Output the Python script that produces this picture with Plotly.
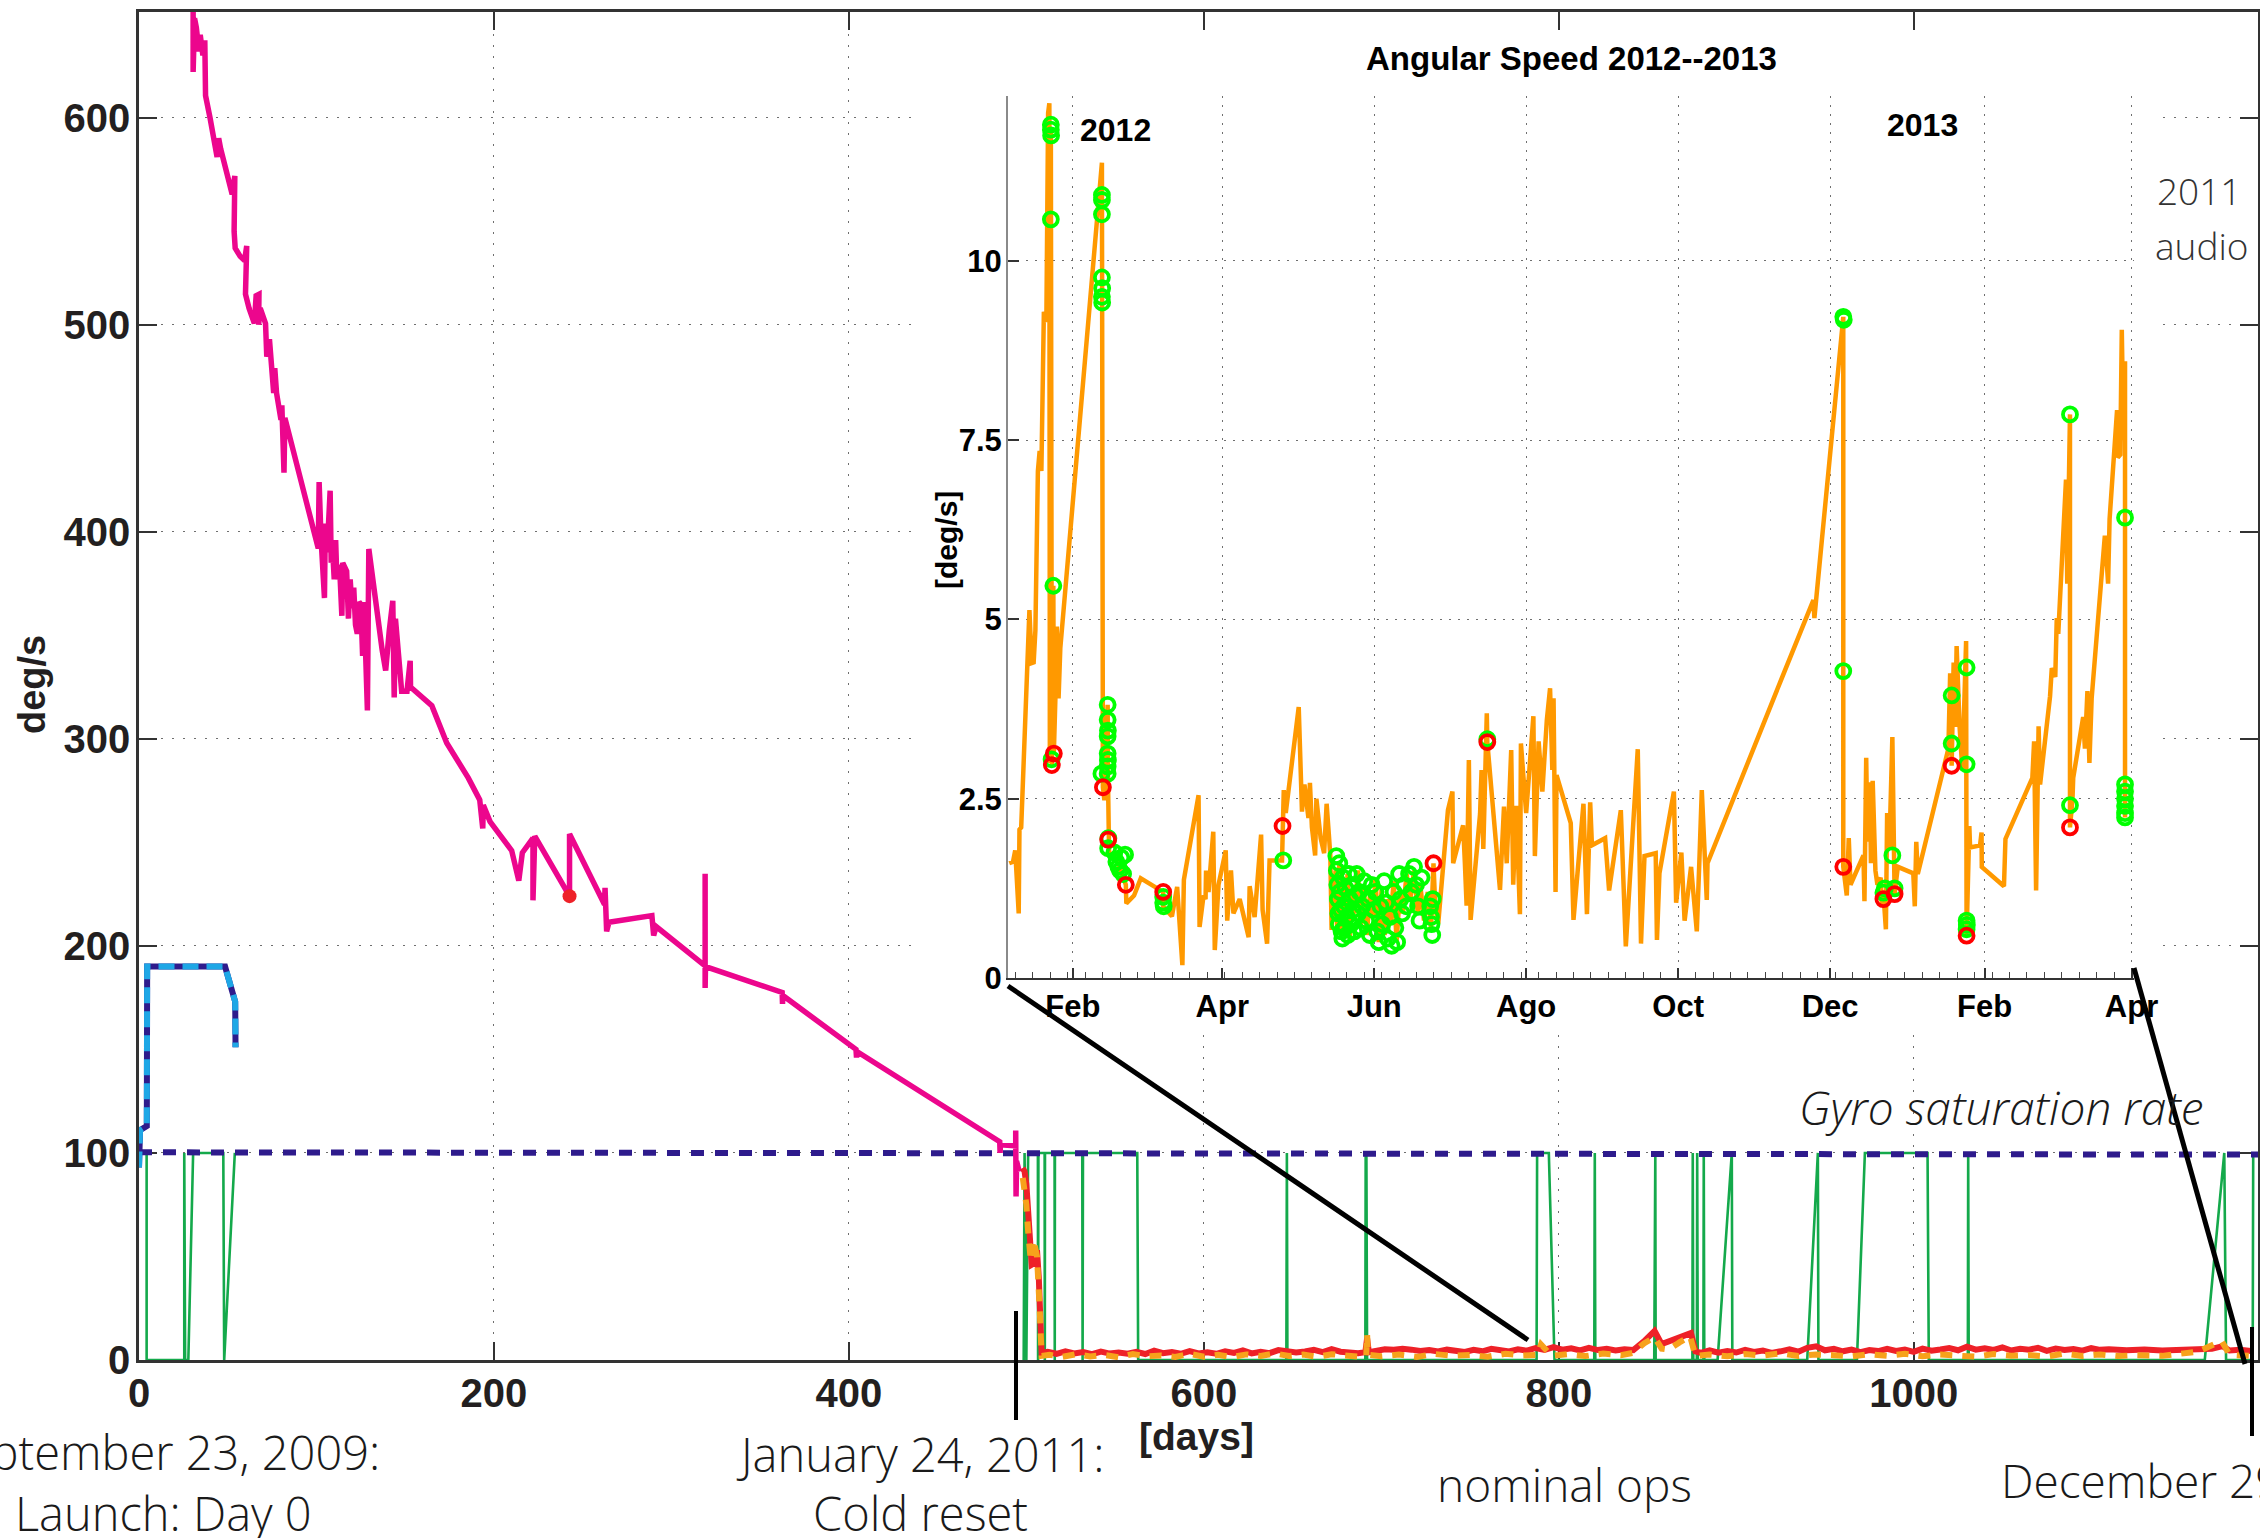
import pandas as pd
import plotly.graph_objects as go

W, H = 2260, 1538
# pixel boxes of the two plotting areas (left, right, top, bottom)
MX0, MX1, MY0, MY1 = 139, 2258, 12, 1360
IX0, IX1, IY0, IY1 = 1008, 2134, 96, 978

X_RANGE = [0, 1194]
Y_RANGE = [0, 651]
INSET_START = "2012-01-06"
INSET_X_RANGE = ["2012-01-06", "2013-04-02"]
INSET_Y_RANGE = [0, 12.3]

# ---------------- main chart data (days since launch, deg/s) ----------------
pink_day = [30.5, 30.5, 31.3, 32.3, 33.8, 34.5, 36.0, 36.3, 37.1, 37.3,
            37.5, 40.0, 44.0, 44.9, 46.0, 52.5, 54.0, 53.6, 54.2, 57.0,
            59.5, 60.7, 60.0, 62.0, 65.0, 66.0, 67.6, 67.4, 68.3, 71.3,
            72.0, 73.5, 75.9, 76.5, 77.5, 80.0, 80.5, 81.7, 82.2, 101.0,
            101.5, 102.5, 104.5, 105.0, 106.0, 107.7, 108.3, 109.0, 110.0, 110.8,
            111.5, 113.0, 114.3, 114.8, 117.0, 118.0, 119.0, 120.0, 121.0, 122.0,
            123.0, 124.0, 125.0, 126.0, 126.8, 128.7, 129.5, 137.0, 139.0, 141.0,
            143.0, 143.8, 144.5, 148.0, 151.0, 152.8, 153.0, 165.0, 173.4, 185.6,
            192.0, 193.7, 194.0, 197.8, 210.0, 214.0, 216.0, 222.0, 222.0, 223.0,
            242.6, 242.6, 262.3, 262.6, 263.5, 264.8, 289.0, 290.0, 291.4, 319.0,
            319.0, 319.0, 319.2, 362.4, 362.6, 362.8, 404.0, 404.3, 404.5, 485.0,
            485.2, 485.4, 494.0, 494.0, 494.2, 494.5, 496.0]
pink_val = [660, 622, 648, 643.6, 632, 640, 630, 636, 636, 621,
            610.6, 600, 581, 590, 585, 563, 571.8, 545, 537, 533,
            531, 538, 514.7, 508, 500.6, 514, 514.7, 500, 508, 500.6,
            484.5, 493, 467, 479, 467, 454, 461, 428.5, 455, 392,
            424, 398, 368, 404, 390, 419.8, 385, 393, 377, 396,
            377, 384, 359.4, 385, 381, 358, 377, 363, 373, 355,
            350.7, 366, 365, 340, 366, 313.7, 391.7, 343, 333, 352,
            366.6, 320, 358, 323, 323, 337.7, 325, 316, 298, 281,
            270.5, 256.7, 268, 260, 246, 231.5, 245, 252, 222, 253,
            224, 254, 220, 228, 207, 211.4, 214.6, 205, 209.3, 190.3,
            234.8, 179.7, 190, 177.5, 172, 176, 150, 146, 149, 105.4,
            100, 104, 103.4, 110.8, 79, 96, 91]

marker_day = [242.6]
marker_val = [224]

launch_day = [0, 0.6, 4.4, 4.6, 48.5, 54.0, 54.2, 54.4]
launch_val = [93, 111, 113, 190, 190, 173, 173, 151]

saturation_day = [0, 1194]
saturation_val = [100.3, 99.2]

green_day = [0, 4.3, 4.3, 25.5, 25.5, 26.0, 27.8, 30.5, 47.5, 48.0,
             54.0, None, 498.5, 499.0, 500.0, 501.0, 506.5, 506.6, 506.8, 510.3,
             510.4, 510.5, 515.9, 516.0, 516.1, 531.5, 531.7, 531.9, 562.5, 563.0,
             646.5, 646.8, 647.1, 691.0, 691.2, 691.6, 692.0, 787.5, 787.8, 794.4,
             797.6, 820.0, 820.3, 820.6, 853.8, 854.0, 854.4, 854.6, 875.3, 875.5,
             875.8, 877.8, 878.0, 878.3, 881.5, 881.7, 882.0, 889.5, 897.5, 897.8,
             940.0, 946.0, 946.3, 968.0, 972.5, 1007.8, 1008.5, 1030.5, 1030.7, 1031.0,
             1164.0, 1175.0, 1176.0, 1191.0, 1191.3]
green_val = [100, 100, 0, 0, 100, 0, 0, 100, 100, 0,
             100, None, 0, 100, 0, 100, 100, 0, 100, 100,
             0, 100, 100, 0, 100, 100, 0, 100, 100, 0,
             0, 100, 0, 0, 100, 100, 0, 0, 100, 100,
             0, 0, 100, 0, 0, 100, 100, 0, 0, 100,
             0, 0, 100, 0, 0, 100, 0, 0, 100, 0,
             0, 100, 0, 0, 100, 100, 0, 0, 100, 0,
             0, 100, 0, 0, 100]

red_day = [497.9, 499, 500, 501, 502, 503, 505, 506, 507, 507.6,
           508.6, 512, 517, 522, 527, 532, 537, 542, 547, 552,
           557, 562, 567, 572, 577, 582, 587, 592, 597, 602,
           607, 612, 617, 622, 627, 632, 637, 642, 647, 652,
           657, 662, 667, 672, 677, 682, 687, 691, 692, 693,
           697, 702, 707, 712, 717, 722, 727, 732, 737, 742,
           747, 752, 757, 762, 767, 772, 777, 782, 787, 792,
           797, 802, 807, 812, 817, 822, 827, 832, 837, 842,
           848, 854, 858, 862, 868, 874.5, 877, 880, 885, 890,
           895, 900, 905, 910, 915, 920, 925, 930, 935, 940,
           945, 950, 955, 960, 965, 970, 975, 980, 985, 990,
           995, 1000, 1005, 1010, 1015, 1020, 1025, 1030, 1035, 1040,
           1045, 1050, 1055, 1060, 1065, 1070, 1075, 1080, 1085, 1090,
           1095, 1100, 1105, 1110, 1120, 1130, 1140, 1150, 1160, 1168,
           1174, 1178, 1184, 1190]
red_val = [92.7, 91, 85, 69, 53, 46, 47, 53, 40, 29,
           3.4, 4.0, 3.0, 4.2, 3.2, 3.8, 2.8, 4.1, 3.1, 3.6,
           3.0, 3.9, 2.9, 4.5, 3.3, 3.8, 3.0, 4.3, 3.2, 3.7,
           3.0, 4.2, 3.4, 4.6, 3.2, 4.0, 3.3, 4.8, 4.3, 3.6,
           4.1, 4.9, 3.8, 5.2, 4.0, 3.6, 3.3, 3.8, 10.5, 3.8,
           4.6, 5.2, 4.9, 5.4, 5.0, 4.4, 4.8, 4.1, 5.0, 4.5,
           3.9, 4.9, 4.2, 5.4, 4.7, 4.1, 5.2, 4.5, 5.8, 4.9,
           6.2, 5.0, 5.6, 4.6, 5.9, 4.8, 5.4, 4.6, 5.2, 4.8,
           9.0, 14.0, 7.7, 9.0, 11.0, 13.0, 4.2, 3.4, 4.6, 3.5,
           4.3, 3.6, 4.9, 3.9, 4.6, 3.4, 4.2, 5.2, 4.0, 5.9,
           6.6, 4.7, 5.4, 4.2, 5.0, 3.8, 4.8, 4.3, 5.4, 4.4,
           5.0, 3.9, 5.5, 4.5, 5.1, 5.8, 4.7, 6.4, 5.0, 5.7,
           4.9, 6.1, 4.6, 5.4, 5.0, 5.9, 4.4, 5.5, 4.8, 5.3,
           4.5, 5.7, 4.9, 5.2, 4.7, 5.1, 4.6, 4.7, 5.0, 5.4,
           6.7, 4.6, 4.9, 4.3]

orange_day = [498, 500, 501, 502.5, 504, 506, 507.5, 508.6, 513, 520,
              528, 536, 544, 552, 560, 568, 576, 584, 592, 600,
              608, 616, 624, 632, 640, 648, 656, 664, 672, 680,
              688, 691.5, 692, 692.5, 700, 710, 720, 730, 740, 750,
              760, 770, 780, 788, 790, 796, 805, 815, 825, 835,
              842, 848, 854, 858, 862, 868, 874, 877, 885, 895,
              905, 915, 925, 935, 945, 955, 965, 975, 985, 995,
              1005, 1015, 1025, 1035, 1045, 1055, 1065, 1075, 1085, 1095,
              1105, 1115, 1125, 1140, 1160, 1173.5, 1178, 1190]
orange_val = [88, 75, 62, 48, 58, 50, 25, 2, 2.5, 1.5,
              2.8, 1.7, 2.4, 1.3, 2.9, 1.8, 2.2, 1.5, 3.0, 1.6,
              2.5, 1.4, 2.7, 2.0, 3.2, 1.9, 2.6, 1.5, 2.8, 2.1,
              1.6, 2.0, 12.5, 2.5, 1.8, 2.6, 1.5, 2.9, 2.0, 2.4,
              1.6, 3.0, 2.2, 2.5, 7.5, 2.0, 2.8, 1.9, 3.1, 2.3,
              3.5, 8.0, 11.0, 5.5, 5.0, 8.5, 11.5, 2.0, 2.6, 1.8,
              2.9, 2.1, 3.2, 1.9, 2.7, 2.3, 1.7, 2.8, 2.0, 3.0,
              1.8, 2.6, 2.2, 1.6, 2.9, 2.1, 2.4, 1.7, 3.1, 2.0,
              2.7, 1.9, 2.3, 2.0, 4.0, 9.2, 2.5, 2.0]

# ---------------- inset data (days after 2012-01-06, deg/s) ----------------
inset_day = [0.5, 2.0, 2.9, 3.6, 4.3, 4.6, 5.3, 8.6, 9.5, 10.3,
             11.0, 12.0, 12.7, 13.4, 14.4, 15.4, 16.1, 16.6, 16.8, 17.2,
             17.2, 17.6, 18.2, 18.4, 19.0, 19.6, 20.3, 21.0, 37.7, 37.7,
             38.1, 38.7, 40.0, 40.1, 40.2, 40.6, 42.7, 45.0, 47.3, 47.5,
             50.6, 53.3, 62.3, 62.3, 65.8, 67.9, 70.0, 70.6, 76.5, 76.9,
             78.5, 79.3, 79.5, 80.5, 82.4, 83.0, 84.5, 87.4, 88.0, 89.5,
             90.5, 93.0, 96.6, 97.0, 99.0, 101.6, 102.2, 104.0, 105.0, 110.0,
             110.2, 110.7, 111.5, 116.7, 118.0, 119.0, 120.6, 121.2, 122.0, 123.3,
             123.8, 125.5, 126.9, 127.9, 128.8, 129.4, 129.9, 130.5, 131.5, 132.2,
             133.0, 133.8, 134.6, 135.5, 136.3, 137.2, 138.0, 139.0, 140.5, 141.5,
             142.8, 144.0, 145.3, 146.5, 147.5, 148.8, 150.0, 151.2, 152.5, 153.5,
             154.8, 156.0, 157.3, 158.5, 160.0, 161.5, 163.0, 164.5, 165.5, 167.0,
             168.5, 169.8, 170.8, 171.5, 172.7, 176.6, 178.4, 178.7, 182.7, 183.4,
             184.1, 185.0, 185.7, 189.5, 190.1, 190.8, 192.2, 192.4, 195.0, 197.5,
             199.1, 200.2, 202.0, 202.8, 204.0, 205.5, 205.9, 208.0, 210.9, 211.5,
             213.0, 214.5, 216.3, 217.6, 218.5, 219.0, 219.8, 220.2, 225.9, 227.0,
             231.0, 232.4, 233.7, 234.4, 239.7, 241.3, 246.0, 248.0, 252.8, 254.1,
             255.5, 260.0, 260.5, 261.5, 267.3, 268.2, 270.3, 271.6, 274.2, 276.5,
             277.5, 278.5, 280.5, 280.8, 309.9, 323.3, 323.7, 335.3, 335.3, 335.3,
             336.7, 337.5, 338.2, 343.4, 343.8, 344.5, 345.0, 346.0, 346.4, 347.1,
             348.2, 349.0, 350.3, 350.8, 351.4, 352.4, 352.9, 353.8, 355.0, 355.4,
             355.9, 357.2, 363.4, 364.0, 364.6, 365.2, 377.5, 378.2, 378.8, 379.6,
             380.2, 380.8, 382.0, 383.1, 384.6, 384.8, 385.9, 386.2, 390.2, 390.8,
             390.9, 399.8, 400.4, 411.2, 411.9, 412.7, 413.7, 414.3, 418.3, 419.0,
             420.4, 421.0, 421.6, 424.7, 425.2, 426.3, 426.3, 427.3, 427.6, 431.6,
             432.3, 433.3, 434.1, 435.0, 440.3, 440.9, 441.6, 442.2, 445.2, 445.5,
             446.5, 447.1, 447.8, 448.4, 448.4, 448.4]
inset_speed = [1.6, 1.62, 1.78, 1.13, 0.9, 2.07, 2.1, 5.13, 4.39, 4.4,
               4.85, 7.07, 7.35, 7.07, 9.29, 9.15, 12.06, 12.2, 3.0, 11.83,
               2.98, 2.97, 5.47, 3.13, 3.87, 4.9, 3.9, 4.6, 11.37, 9.4,
               2.66, 2.48, 3.81, 2.85, 1.93, 1.7, 1.75, 1.5, 1.3, 1.04,
               1.15, 1.39, 1.2, 1.0, 0.86, 1.27, 0.18, 1.37, 2.55, 0.71,
               1.15, 1.1, 1.5, 1.2, 2.04, 0.39, 1.3, 1.78, 0.8, 1.5,
               0.9, 1.1, 0.57, 1.28, 0.85, 2.0, 0.95, 0.48, 1.64, 1.64,
               2.12, 2.62, 2.3, 3.78, 2.32, 2.7, 2.23, 2.72, 2.1, 1.71,
               2.5, 1.95, 1.74, 2.43, 2.0, 1.7, 0.67, 1.04, 1.5, 0.7,
               1.6, 0.6, 1.3, 0.8, 1.45, 0.55, 1.2, 0.9, 1.5, 0.7,
               1.3, 0.6, 1.15, 0.85, 1.4, 0.5, 1.25, 0.6, 1.1, 0.75,
               1.35, 0.5, 1.2, 0.9, 1.45, 1.1, 1.5, 0.9, 1.3, 0.8,
               1.2, 0.7, 1.6, 1.0, 0.76, 2.34, 2.6, 1.6, 2.13, 1.6,
               1.01, 3.04, 0.81, 2.29, 2.9, 1.8, 3.69, 3.29, 2.2, 1.23,
               2.39, 1.6, 3.18, 1.3, 2.4, 0.89, 3.27, 2.3, 3.65, 1.7,
               3.3, 2.6, 3.6, 4.04, 2.9, 3.9, 1.2, 2.83, 2.16, 0.81,
               2.43, 0.89, 2.45, 1.85, 1.95, 1.22, 2.34, 0.44, 3.19, 0.48,
               1.7, 1.74, 0.53, 1.46, 2.6, 1.05, 1.75, 0.8, 1.55, 0.65,
               1.6, 2.62, 1.09, 1.6, 4.12, 5.27, 5.02, 9.22, 4.27, 1.55,
               1.15, 1.95, 1.3, 1.71, 1.07, 3.07, 1.9, 2.73, 1.6, 2.75,
               1.5, 1.3, 1.4, 1.0, 1.19, 0.68, 2.3, 1.8, 3.36, 2.6,
               1.17, 1.55, 1.46, 1.0, 1.9, 1.45, 3.2, 4.25, 2.96, 4.4,
               3.5, 4.63, 3.5, 2.9, 4.7, 0.59, 2.12, 1.82, 1.85, 2.03,
               1.55, 1.28, 1.94, 2.79, 3.3, 1.22, 3.51, 2.7, 3.93, 4.32,
               4.2, 5.02, 4.8, 6.95, 5.5, 7.86, 2.1, 2.49, 2.79, 3.64,
               3.2, 4.0, 3.0, 3.9, 6.17, 5.9, 5.5, 6.4, 7.92, 7.26,
               7.3, 9.04, 7.5, 8.6, 6.42, 2.24]

green_mark_day_early = [17.2, 17.2, 17.3, 17.2, 18.2, 17.5, 37.7, 37.7, 37.7, 37.7,
                        37.8, 37.7, 37.8, 37.5, 40.0, 40.0, 40.1, 40.0, 40.0, 40.1,
                        40.0, 40.0, 40.2, 40.3, 42.7, 43.5, 44.3, 45.0, 45.5, 46.2,
                        47.0, 62.3, 62.3, 62.5, 110.5]
green_mark_val_early = [11.9, 11.83, 11.75, 10.58, 5.47, 3.05, 10.92, 10.85, 10.65, 9.77,
                        9.62, 9.5, 9.42, 2.85, 3.81, 3.6, 3.45, 3.37, 3.13, 3.04,
                        2.95, 2.85, 1.81, 1.95, 1.75, 1.62, 1.55, 1.5, 1.68, 1.45,
                        1.72, 1.13, 1.05, 1.0, 1.64]
green_mark_day_june = [131.8, 132.0, 132.2, 132.4, 132.6, 132.8, 133.0, 133.3, 133.6, 133.9,
                       134.2, 134.5, 134.8, 135.2, 135.5, 136.0, 136.4, 136.8, 137.2, 137.6,
                       138.0, 138.5, 139.0, 139.5, 140.0, 140.5, 141.0, 141.6, 142.2, 143.0,
                       143.8, 144.5, 145.2, 146.0, 146.8, 147.5, 148.2, 148.8, 149.5, 150.2,
                       151.0, 151.8, 152.5, 153.3, 154.0, 154.8, 155.5, 156.2, 157.0, 157.6,
                       158.2, 159.0, 160.0, 161.0, 162.0, 163.0, 163.8, 164.6, 165.2, 166.0,
                       169.5, 169.8, 170.0, 170.3, 170.5]
green_mark_val_june = [1.7, 1.5, 1.3, 1.1, 0.9, 0.75, 1.6, 1.2, 0.95, 0.65,
                       0.55, 1.4, 1.0, 0.7, 1.25, 0.85, 0.6, 1.45, 1.1, 0.75,
                       1.3, 0.95, 0.65, 1.15, 1.45, 0.9, 1.2, 0.7, 1.0, 1.35,
                       0.8, 1.1, 0.6, 1.3, 0.95, 1.2, 0.65, 0.5, 1.0, 0.75,
                       1.35, 1.05, 0.55, 0.85, 0.45, 1.2, 0.7, 0.5, 1.45, 1.1,
                       0.9, 1.3, 1.0, 1.45, 1.2, 1.55, 1.3, 1.0, 0.8, 1.4,
                       1.0, 0.85, 0.75, 0.6, 1.1]
green_mark_day_late = [192.4, 335.3, 335.5, 335.3, 351.4, 352.0, 355.0, 355.9, 378.8, 378.8,
                       384.8, 384.8, 384.8, 384.9, 384.8, 426.3, 426.3, 448.4, 448.4, 448.4,
                       448.4, 448.4, 448.4, 448.4]
green_mark_val_late = [3.33, 9.22, 9.18, 4.28, 1.19, 1.25, 1.71, 1.25, 3.27, 3.94,
                       4.33, 2.98, 0.8, 0.74, 0.68, 7.86, 2.41, 6.42, 2.7, 2.6,
                       2.5, 2.4, 2.3, 2.24]
red_mark_day = [17.6, 18.4, 38.1, 40.2, 47.3, 62.3, 110.2, 170.8, 192.4, 335.3,
                351.4, 355.9, 378.8, 384.8, 426.3]
red_mark_val = [2.97, 3.13, 2.66, 1.93, 1.3, 1.2, 2.12, 1.6, 3.29, 1.55,
                1.1, 1.17, 2.96, 0.59, 2.10]

inset_tickvals = ["2012-02-01", "2012-04-01", "2012-06-01", "2012-08-01",
                  "2012-10-01", "2012-12-01", "2013-02-01", "2013-04-01"]
inset_ticktext = ["Feb", "Apr", "Jun", "Ago", "Oct", "Dec", "Feb", "Apr"]


def to_date(days):
    base = pd.Timestamp(INSET_START)
    return [base + pd.Timedelta(days=d) for d in days]


def px_x(px):
    return px / W


def px_y(py):
    return 1 - py / H


def data_x(px):
    return X_RANGE[0] + (px - MX0) / (MX1 - MX0) * (X_RANGE[1] - X_RANGE[0])


def data_y(py):
    return Y_RANGE[0] + (MY1 - py) / (MY1 - MY0) * (Y_RANGE[1] - Y_RANGE[0])


PINK = "#EC068D"
RED = "#EE2128"
ORANGE = "#F7A21B"
GREEN = "#14A94B"
NAVY = "#2E1B8C"
CYAN = "#1EA7E6"
I_ORANGE = "#FF9900"

fig = go.Figure()

# main traces
fig.add_trace(go.Scatter(x=green_day, y=green_val, mode="lines",
                         line=dict(color=GREEN, width=2.6), connectgaps=False))
fig.add_trace(go.Scatter(x=saturation_day, y=saturation_val, mode="lines",
                         line=dict(color=NAVY, width=6, dash="13px,11px")))
fig.add_trace(go.Scatter(x=pink_day, y=pink_val, mode="lines",
                         line=dict(color=PINK, width=5.5)))
fig.add_trace(go.Scatter(x=marker_day, y=marker_val, mode="markers",
                         marker=dict(color=RED, size=14)))
fig.add_trace(go.Scatter(x=launch_day, y=launch_val, mode="lines",
                         line=dict(color=NAVY, width=6)))
fig.add_trace(go.Scatter(x=launch_day, y=launch_val, mode="lines",
                         line=dict(color=CYAN, width=6, dash="16px,8px")))
fig.add_trace(go.Scatter(x=red_day, y=red_val, mode="lines",
                         line=dict(color=RED, width=6)))
fig.add_trace(go.Scatter(x=orange_day, y=orange_val, mode="lines",
                         line=dict(color=ORANGE, width=6, dash="12px,10px")))

# inset traces
fig.add_trace(go.Scatter(x=to_date(inset_day), y=inset_speed, mode="lines",
                         line=dict(color=I_ORANGE, width=4.5),
                         xaxis="x2", yaxis="y2"))
green_days = green_mark_day_early + green_mark_day_june + green_mark_day_late
green_vals = green_mark_val_early + green_mark_val_june + green_mark_val_late
fig.add_trace(go.Scatter(x=to_date(green_days), y=green_vals, mode="markers",
                         marker=dict(symbol="circle-open", color="#00FF00", size=14,
                                     line=dict(width=3.8, color="#00FF00")),
                         xaxis="x2", yaxis="y2"))
fig.add_trace(go.Scatter(x=to_date(red_mark_day), y=red_mark_val, mode="markers",
                         marker=dict(symbol="circle-open", color="#FF0000", size=14,
                                     line=dict(width=3.8, color="#FF0000")),
                         xaxis="x2", yaxis="y2"))

TICK_BOLD = "Liberation Sans, Arial, Helvetica, sans-serif"
LIGHT = "Open Sans, Lato, Liberation Sans, sans-serif"
DARK = "#231F20"

main_axis_common = dict(
    ticks="inside", ticklen=18, tickwidth=2, tickcolor="#333333",
    showline=True, linecolor="#333333", linewidth=2.5, mirror="allticks",
    showgrid=True, gridcolor="#6f6f6f", gridwidth=1.4, griddash="2px,9px",
    zeroline=False, layer="below traces", automargin=False,
    tickfont=dict(family=TICK_BOLD, size=40, color=DARK, weight="bold"),
)

inset_axis_common = dict(
    ticks="inside", tickwidth=1.6, tickcolor="#333333",
    showline=True, linewidth=2, mirror=False, automargin=False,
    showgrid=True, gridcolor="#6f6f6f", gridwidth=1.2, griddash="2px,7px",
    zeroline=False,
    tickfont=dict(family=TICK_BOLD, size=31, color="#000000", weight="bold"),
)

fig.update_layout(
    width=W, height=H,
    margin=dict(l=0, r=0, t=0, b=0, autoexpand=False),
    paper_bgcolor="white", plot_bgcolor="white",
    showlegend=False,
    xaxis=dict(domain=[MX0 / W, MX1 / W], range=X_RANGE, anchor="y",
               tickmode="array", tickvals=[0, 200, 400, 600, 800, 1000],
               ticklabelstandoff=-4, **main_axis_common),
    yaxis=dict(domain=[px_y(MY1), px_y(MY0)], range=Y_RANGE, anchor="x",
               tickmode="array", tickvals=[0, 100, 200, 300, 400, 500, 600],
               ticklabelstandoff=-2, **main_axis_common),
    xaxis2=dict(domain=[IX0 / W, IX1 / W], anchor="y2", type="date",
                range=INSET_X_RANGE, tickmode="array",
                tickvals=inset_tickvals, ticktext=inset_ticktext,
                ticklen=10, linecolor="#333333", ticklabelstandoff=0,
                minor=dict(ticks="inside", ticklen=6, tickwidth=1.3,
                           tickcolor="#444444", tick0="2012-01-09",
                           dtick=7 * 86400000, showgrid=False),
                **inset_axis_common),
    yaxis2=dict(domain=[px_y(IY1), px_y(IY0)], anchor="x2",
                range=INSET_Y_RANGE, tickmode="array",
                tickvals=[0, 2.5, 5, 7.5, 10],
                ticktext=["0", "2.5", "5", "7.5", "10"],
                ticklen=11, linecolor="#8a8a8a", ticklabelstandoff=-2,
                **inset_axis_common),
)

# white panel of the inset (above main grid, below the curves)
shapes = [
    dict(type="rect", xref="x", yref="y", layer="between",
         x0=data_x(915), x1=data_x(2163), y0=data_y(1032), y1=data_y(16),
         fillcolor="white", line=dict(width=0)),
]
# zoom call-out and date marker lines of the slide
for (xa, ya, xb, yb, w) in [(1008, 986, 1528, 1340, 5),
                            (2134, 968, 2245, 1364, 5),
                            (1016, 1311, 1016, 1420, 4),
                            (2252, 1327, 2252, 1436, 4)]:
    shapes.append(dict(type="line", xref="paper", yref="paper", layer="above",
                       x0=px_x(xa), y0=px_y(ya), x1=px_x(xb), y1=px_y(yb),
                       line=dict(color="black", width=w)))
fig.update_layout(shapes=shapes)


def ann(text, x, y, size, family=LIGHT, weight=300, color="#1a1a1a",
        xanchor="center", italic=False, angle=0):
    return dict(text=text, x=px_x(x), y=px_y(y), xref="paper", yref="paper",
                xanchor=xanchor, yanchor="middle", showarrow=False,
                textangle=angle,
                font=dict(family=family, size=size, color=color, weight=weight,
                          style="italic" if italic else "normal"))


annotations = [
    ann("September 23, 2009:", 382, 1452, 47, xanchor="right"),
    ann("Launch: Day 0", 163, 1513, 47),
    ann("January 24, 2011:", 920, 1454, 47),
    ann("Cold reset", 920, 1513, 47),
    ann("nominal ops", 1564, 1484, 46),
    ann("December 29, 2013:", 1999, 1480, 46, xanchor="left"),
    ann("Gyro saturation rate", 2001, 1107, 46, italic=True),
    ann("2011", 2243, 190, 37, color="#333333", xanchor="right"),
    ann("audio", 2251, 245, 37, color="#333333", xanchor="right"),
    ann("[days]", 1196, 1436, 39, family=TICK_BOLD, weight="bold", color=DARK),
    ann("deg/s", 32, 685, 38, family=TICK_BOLD, weight="bold", color=DARK, angle=-90),
    ann("Angular Speed 2012--2013", 1571, 58, 33, family=TICK_BOLD, weight="bold",
        color="#000000"),
    ann("2012", 1078, 130, 32, family=TICK_BOLD, weight="bold", color="#000000",
        xanchor="left"),
    ann("2013", 1922, 125, 32, family=TICK_BOLD, weight="bold", color="#000000"),
    ann("[deg/s]", 946, 540, 30, family=TICK_BOLD, weight="bold", color="#000000",
        angle=-90),
]
fig.update_layout(annotations=annotations)

fig.write_html("out.html")
with open("out.html", "r", encoding="utf-8") as f:
    html = f.read()
html = html.replace("<head>", "<head><style>html,body{margin:0;padding:0;overflow:hidden}</style>", 1)
with open("out.html", "w", encoding="utf-8") as f:
    f.write(html)
